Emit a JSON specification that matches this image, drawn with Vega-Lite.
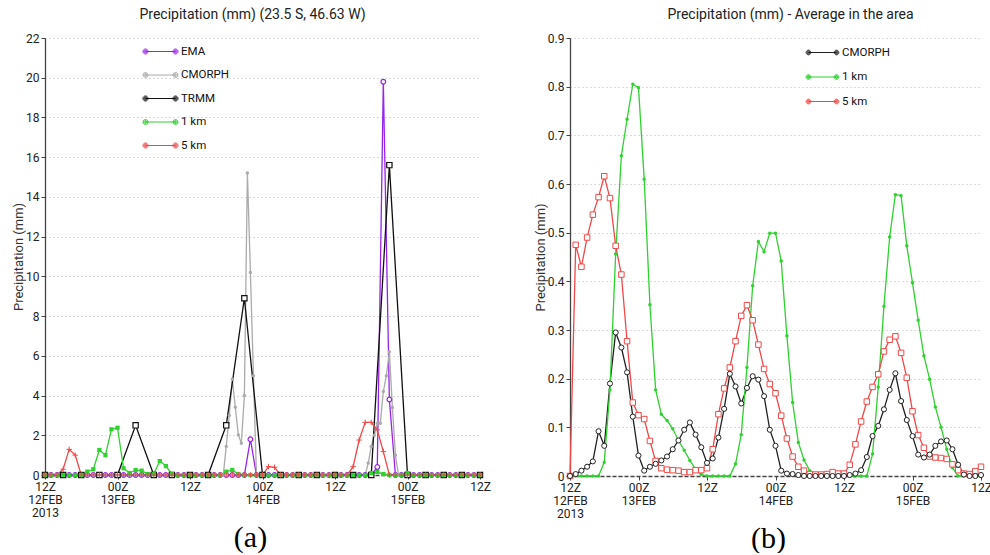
{
  "$schema": "https://vega.github.io/schema/vega-lite/v6.json",
  "background": "white",
  "padding": {"left": 12, "top": 8, "right": 0, "bottom": 0},
  "spacing": 43,
  "config": {
    "font": "Roboto, sans-serif",
    "view": {"stroke": null},
    "title": {"fontSize": 14, "fontWeight": "normal", "color": "#222", "offset": 10},
    "axis": {"labelFontSize": 12, "labelColor": "#222", "titleFontSize": 13, "titleFontWeight": "normal", "titleColor": "#333", "domainColor": "#444", "domainWidth": 1.3, "tickColor": "#444", "gridColor": "#b5b5b5", "gridDash": [1, 3], "tickSize": 4, "labelPadding": 2, "labelOverlap": false, "labelFlush": false},
    "legend": {"labelFontSize": 11.5, "labelColor": "#111", "padding": 0, "symbolStrokeWidth": 1, "labelOffset": 5}
  },
  "datasets": {
    "a": [
      {"s":"EMA","h":0,"v":0},{"s":"EMA","h":1,"v":0},{"s":"EMA","h":2,"v":0},{"s":"EMA","h":3,"v":0},{"s":"EMA","h":4,"v":0},{"s":"EMA","h":5,"v":0},{"s":"EMA","h":6,"v":0},{"s":"EMA","h":7,"v":0},{"s":"EMA","h":8,"v":0},{"s":"EMA","h":9,"v":0},{"s":"EMA","h":10,"v":0},{"s":"EMA","h":11,"v":0},{"s":"EMA","h":12,"v":0},{"s":"EMA","h":13,"v":0},{"s":"EMA","h":14,"v":0},{"s":"EMA","h":15,"v":0},{"s":"EMA","h":16,"v":0},{"s":"EMA","h":17,"v":0},{"s":"EMA","h":18,"v":0},{"s":"EMA","h":19,"v":0},{"s":"EMA","h":20,"v":0},{"s":"EMA","h":21,"v":0},{"s":"EMA","h":22,"v":0},{"s":"EMA","h":23,"v":0},{"s":"EMA","h":24,"v":0},{"s":"EMA","h":25,"v":0},{"s":"EMA","h":26,"v":0},{"s":"EMA","h":27,"v":0},{"s":"EMA","h":28,"v":0},{"s":"EMA","h":29,"v":0},{"s":"EMA","h":30,"v":0},{"s":"EMA","h":31,"v":0},{"s":"EMA","h":32,"v":0},{"s":"EMA","h":33,"v":0},{"s":"EMA","h":34,"v":1.8},{"s":"EMA","h":35,"v":0},{"s":"EMA","h":36,"v":0},{"s":"EMA","h":37,"v":0},{"s":"EMA","h":38,"v":0},{"s":"EMA","h":39,"v":0},{"s":"EMA","h":40,"v":0},{"s":"EMA","h":41,"v":0},{"s":"EMA","h":42,"v":0},{"s":"EMA","h":43,"v":0},{"s":"EMA","h":44,"v":0},{"s":"EMA","h":45,"v":0},{"s":"EMA","h":46,"v":0},{"s":"EMA","h":47,"v":0},{"s":"EMA","h":48,"v":0},{"s":"EMA","h":49,"v":0},{"s":"EMA","h":50,"v":0},{"s":"EMA","h":51,"v":0},{"s":"EMA","h":52,"v":0},{"s":"EMA","h":53,"v":0},{"s":"EMA","h":54,"v":0},{"s":"EMA","h":55,"v":0.4},{"s":"EMA","h":56,"v":19.8},{"s":"EMA","h":57,"v":3.8},{"s":"EMA","h":58,"v":0},{"s":"EMA","h":59,"v":0},{"s":"EMA","h":60,"v":0},{"s":"EMA","h":61,"v":0},{"s":"EMA","h":62,"v":0},{"s":"EMA","h":63,"v":0},{"s":"EMA","h":64,"v":0},{"s":"EMA","h":65,"v":0},{"s":"EMA","h":66,"v":0},{"s":"EMA","h":67,"v":0},{"s":"EMA","h":68,"v":0},{"s":"EMA","h":69,"v":0},{"s":"EMA","h":70,"v":0},{"s":"EMA","h":71,"v":0},{"s":"EMA","h":72,"v":0},

      {"s":"CMORPH","h":0,"v":0},{"s":"CMORPH","h":1,"v":0},{"s":"CMORPH","h":2,"v":0},{"s":"CMORPH","h":3,"v":0},{"s":"CMORPH","h":4,"v":0},{"s":"CMORPH","h":5,"v":0},{"s":"CMORPH","h":6,"v":0},{"s":"CMORPH","h":7,"v":0},{"s":"CMORPH","h":8,"v":0},{"s":"CMORPH","h":9,"v":0},{"s":"CMORPH","h":10,"v":0},{"s":"CMORPH","h":11,"v":0},{"s":"CMORPH","h":12,"v":0},{"s":"CMORPH","h":13,"v":0},{"s":"CMORPH","h":14,"v":0},{"s":"CMORPH","h":15,"v":0},{"s":"CMORPH","h":16,"v":0},{"s":"CMORPH","h":17,"v":0},{"s":"CMORPH","h":18,"v":0},{"s":"CMORPH","h":19,"v":0},{"s":"CMORPH","h":20,"v":0},{"s":"CMORPH","h":21,"v":0},{"s":"CMORPH","h":22,"v":0},{"s":"CMORPH","h":23,"v":0},{"s":"CMORPH","h":24,"v":0},{"s":"CMORPH","h":25,"v":0},{"s":"CMORPH","h":26,"v":0},{"s":"CMORPH","h":27,"v":0},{"s":"CMORPH","h":28,"v":0},{"s":"CMORPH","h":29,"v":0},{"s":"CMORPH","h":29.5,"v":0},{"s":"CMORPH","h":30,"v":1.43},{"s":"CMORPH","h":30.5,"v":3.0},{"s":"CMORPH","h":31,"v":4.82},{"s":"CMORPH","h":31.5,"v":3.41},{"s":"CMORPH","h":32,"v":2.02},{"s":"CMORPH","h":32.5,"v":1.6},{"s":"CMORPH","h":33,"v":4.0},{"s":"CMORPH","h":33.5,"v":15.2},{"s":"CMORPH","h":34,"v":10.2},{"s":"CMORPH","h":34.5,"v":5.0},{"s":"CMORPH","h":35,"v":0},{"s":"CMORPH","h":36,"v":0},{"s":"CMORPH","h":37,"v":0},{"s":"CMORPH","h":38,"v":0},{"s":"CMORPH","h":39,"v":0},{"s":"CMORPH","h":40,"v":0},{"s":"CMORPH","h":41,"v":0},{"s":"CMORPH","h":42,"v":0},{"s":"CMORPH","h":43,"v":0},{"s":"CMORPH","h":44,"v":0},{"s":"CMORPH","h":45,"v":0},{"s":"CMORPH","h":46,"v":0},{"s":"CMORPH","h":47,"v":0},{"s":"CMORPH","h":48,"v":0},{"s":"CMORPH","h":49,"v":0},{"s":"CMORPH","h":50,"v":0},{"s":"CMORPH","h":51,"v":0},{"s":"CMORPH","h":52,"v":0},{"s":"CMORPH","h":53,"v":0},{"s":"CMORPH","h":53.5,"v":0.6},{"s":"CMORPH","h":54,"v":1.43},{"s":"CMORPH","h":54.5,"v":2.0},{"s":"CMORPH","h":55,"v":2.6},{"s":"CMORPH","h":55.5,"v":2.6},{"s":"CMORPH","h":56,"v":4.2},{"s":"CMORPH","h":56.5,"v":5.0},{"s":"CMORPH","h":57,"v":6.2},{"s":"CMORPH","h":57.5,"v":3.4},{"s":"CMORPH","h":58,"v":1.0},{"s":"CMORPH","h":58.5,"v":0},{"s":"CMORPH","h":59,"v":0},{"s":"CMORPH","h":60,"v":0},{"s":"CMORPH","h":61,"v":0},{"s":"CMORPH","h":62,"v":0},{"s":"CMORPH","h":63,"v":0},{"s":"CMORPH","h":64,"v":0},{"s":"CMORPH","h":65,"v":0},{"s":"CMORPH","h":66,"v":0},{"s":"CMORPH","h":67,"v":0},{"s":"CMORPH","h":68,"v":0},{"s":"CMORPH","h":69,"v":0},{"s":"CMORPH","h":70,"v":0},{"s":"CMORPH","h":71,"v":0},{"s":"CMORPH","h":72,"v":0},

      {"s":"TRMM","h":0,"v":0},{"s":"TRMM","h":3,"v":0},{"s":"TRMM","h":6,"v":0},{"s":"TRMM","h":9,"v":0},{"s":"TRMM","h":12,"v":0},{"s":"TRMM","h":15,"v":2.5},{"s":"TRMM","h":18,"v":0},{"s":"TRMM","h":21,"v":0},{"s":"TRMM","h":24,"v":0},{"s":"TRMM","h":27,"v":0},{"s":"TRMM","h":30,"v":2.5},{"s":"TRMM","h":33,"v":8.9},{"s":"TRMM","h":36,"v":0},{"s":"TRMM","h":39,"v":0},{"s":"TRMM","h":42,"v":0},{"s":"TRMM","h":45,"v":0},{"s":"TRMM","h":48,"v":0},{"s":"TRMM","h":51,"v":0},{"s":"TRMM","h":54,"v":0},{"s":"TRMM","h":57,"v":15.6},{"s":"TRMM","h":60,"v":0},{"s":"TRMM","h":63,"v":0},{"s":"TRMM","h":66,"v":0},{"s":"TRMM","h":69,"v":0},{"s":"TRMM","h":72,"v":0},

      {"s":"1 km","h":0,"v":0},{"s":"1 km","h":1,"v":0},{"s":"1 km","h":2,"v":0},{"s":"1 km","h":3,"v":0},{"s":"1 km","h":4,"v":0},{"s":"1 km","h":5,"v":0},{"s":"1 km","h":6,"v":0},{"s":"1 km","h":7,"v":0.17},{"s":"1 km","h":8,"v":0.29},{"s":"1 km","h":9,"v":1.26},{"s":"1 km","h":10,"v":1.0},{"s":"1 km","h":11,"v":2.3},{"s":"1 km","h":12,"v":2.38},{"s":"1 km","h":13,"v":0.34},{"s":"1 km","h":14,"v":0.1},{"s":"1 km","h":15,"v":0.25},{"s":"1 km","h":16,"v":0.22},{"s":"1 km","h":17,"v":0.05},{"s":"1 km","h":18,"v":0.05},{"s":"1 km","h":19,"v":0.7},{"s":"1 km","h":20,"v":0.45},{"s":"1 km","h":21,"v":0.05},{"s":"1 km","h":22,"v":0},{"s":"1 km","h":23,"v":0},{"s":"1 km","h":24,"v":0},{"s":"1 km","h":25,"v":0},{"s":"1 km","h":26,"v":0},{"s":"1 km","h":27,"v":0},{"s":"1 km","h":28,"v":0},{"s":"1 km","h":29,"v":0},{"s":"1 km","h":30,"v":0.17},{"s":"1 km","h":31,"v":0.25},{"s":"1 km","h":32,"v":0.05},{"s":"1 km","h":33,"v":0},{"s":"1 km","h":34,"v":0},{"s":"1 km","h":35,"v":0},{"s":"1 km","h":36,"v":0},{"s":"1 km","h":37,"v":0},{"s":"1 km","h":38,"v":0},{"s":"1 km","h":39,"v":0},{"s":"1 km","h":40,"v":0},{"s":"1 km","h":41,"v":0},{"s":"1 km","h":42,"v":0},{"s":"1 km","h":43,"v":0},{"s":"1 km","h":44,"v":0},{"s":"1 km","h":45,"v":0},{"s":"1 km","h":46,"v":0},{"s":"1 km","h":47,"v":0},{"s":"1 km","h":48,"v":0},{"s":"1 km","h":49,"v":0},{"s":"1 km","h":50,"v":0},{"s":"1 km","h":51,"v":0},{"s":"1 km","h":52,"v":0},{"s":"1 km","h":53,"v":0},{"s":"1 km","h":54,"v":0.1},{"s":"1 km","h":55,"v":0.15},{"s":"1 km","h":56,"v":0.05},{"s":"1 km","h":57,"v":0},{"s":"1 km","h":58,"v":0},{"s":"1 km","h":59,"v":0},{"s":"1 km","h":60,"v":0.1},{"s":"1 km","h":61,"v":0},{"s":"1 km","h":62,"v":0},{"s":"1 km","h":63,"v":0},{"s":"1 km","h":64,"v":0},{"s":"1 km","h":65,"v":0},{"s":"1 km","h":66,"v":0},{"s":"1 km","h":67,"v":0},{"s":"1 km","h":68,"v":0},{"s":"1 km","h":69,"v":0},{"s":"1 km","h":70,"v":0},{"s":"1 km","h":71,"v":0},{"s":"1 km","h":72,"v":0},

      {"s":"5 km","h":0,"v":0},{"s":"5 km","h":1,"v":0},{"s":"5 km","h":2,"v":0},{"s":"5 km","h":3,"v":0.29},{"s":"5 km","h":4,"v":1.29},{"s":"5 km","h":5,"v":1.0},{"s":"5 km","h":6,"v":0},{"s":"5 km","h":7,"v":0},{"s":"5 km","h":8,"v":0},{"s":"5 km","h":9,"v":0},{"s":"5 km","h":10,"v":0},{"s":"5 km","h":11,"v":0},{"s":"5 km","h":12,"v":0},{"s":"5 km","h":13,"v":0},{"s":"5 km","h":14,"v":0},{"s":"5 km","h":15,"v":0},{"s":"5 km","h":16,"v":0},{"s":"5 km","h":17,"v":0},{"s":"5 km","h":18,"v":0},{"s":"5 km","h":19,"v":0},{"s":"5 km","h":20,"v":0},{"s":"5 km","h":21,"v":0},{"s":"5 km","h":22,"v":0},{"s":"5 km","h":23,"v":0},{"s":"5 km","h":24,"v":0},{"s":"5 km","h":25,"v":0},{"s":"5 km","h":26,"v":0},{"s":"5 km","h":27,"v":0},{"s":"5 km","h":28,"v":0},{"s":"5 km","h":29,"v":0},{"s":"5 km","h":30,"v":0},{"s":"5 km","h":31,"v":0},{"s":"5 km","h":32,"v":0},{"s":"5 km","h":33,"v":0},{"s":"5 km","h":34,"v":0},{"s":"5 km","h":35,"v":0},{"s":"5 km","h":36,"v":0},{"s":"5 km","h":37,"v":0.42},{"s":"5 km","h":38,"v":0.39},{"s":"5 km","h":39,"v":0},{"s":"5 km","h":40,"v":0},{"s":"5 km","h":41,"v":0},{"s":"5 km","h":42,"v":0},{"s":"5 km","h":43,"v":0},{"s":"5 km","h":44,"v":0},{"s":"5 km","h":45,"v":0},{"s":"5 km","h":46,"v":0},{"s":"5 km","h":47,"v":0},{"s":"5 km","h":48,"v":0},{"s":"5 km","h":49,"v":0},{"s":"5 km","h":50,"v":0},{"s":"5 km","h":51,"v":0.42},{"s":"5 km","h":52,"v":1.76},{"s":"5 km","h":53,"v":2.65},{"s":"5 km","h":54,"v":2.65},{"s":"5 km","h":55,"v":2.27},{"s":"5 km","h":56,"v":1.18},{"s":"5 km","h":57,"v":0},{"s":"5 km","h":58,"v":0},{"s":"5 km","h":59,"v":0},{"s":"5 km","h":60,"v":0},{"s":"5 km","h":61,"v":0},{"s":"5 km","h":62,"v":0},{"s":"5 km","h":63,"v":0},{"s":"5 km","h":64,"v":0},{"s":"5 km","h":65,"v":0},{"s":"5 km","h":66,"v":0},{"s":"5 km","h":67,"v":0},{"s":"5 km","h":68,"v":0},{"s":"5 km","h":69,"v":0},{"s":"5 km","h":70,"v":0},{"s":"5 km","h":71,"v":0},{"s":"5 km","h":72,"v":0}
    ],
    "b": [
      {"s":"CMORPH","h":0,"v":0},{"s":"CMORPH","h":1,"v":0.004},{"s":"CMORPH","h":2,"v":0.011},{"s":"CMORPH","h":3,"v":0.019},{"s":"CMORPH","h":4,"v":0.03},{"s":"CMORPH","h":5,"v":0.092},{"s":"CMORPH","h":6,"v":0.062},{"s":"CMORPH","h":7,"v":0.19},{"s":"CMORPH","h":8,"v":0.295},{"s":"CMORPH","h":9,"v":0.264},{"s":"CMORPH","h":10,"v":0.213},{"s":"CMORPH","h":11,"v":0.122},{"s":"CMORPH","h":12,"v":0.042},{"s":"CMORPH","h":13,"v":0.011},{"s":"CMORPH","h":14,"v":0.019},{"s":"CMORPH","h":15,"v":0.025},{"s":"CMORPH","h":16,"v":0.032},{"s":"CMORPH","h":17,"v":0.04},{"s":"CMORPH","h":18,"v":0.055},{"s":"CMORPH","h":19,"v":0.073},{"s":"CMORPH","h":20,"v":0.095},{"s":"CMORPH","h":21,"v":0.11},{"s":"CMORPH","h":22,"v":0.085},{"s":"CMORPH","h":23,"v":0.059},{"s":"CMORPH","h":24,"v":0.027},{"s":"CMORPH","h":25,"v":0.036},{"s":"CMORPH","h":26,"v":0.079},{"s":"CMORPH","h":27,"v":0.138},{"s":"CMORPH","h":28,"v":0.21},{"s":"CMORPH","h":29,"v":0.184},{"s":"CMORPH","h":30,"v":0.149},{"s":"CMORPH","h":31,"v":0.181},{"s":"CMORPH","h":32,"v":0.205},{"s":"CMORPH","h":33,"v":0.198},{"s":"CMORPH","h":34,"v":0.164},{"s":"CMORPH","h":35,"v":0.095},{"s":"CMORPH","h":36,"v":0.062},{"s":"CMORPH","h":37,"v":0.011},{"s":"CMORPH","h":38,"v":0.005},{"s":"CMORPH","h":39,"v":0.004},{"s":"CMORPH","h":40,"v":0.002},{"s":"CMORPH","h":41,"v":0},{"s":"CMORPH","h":42,"v":0},{"s":"CMORPH","h":43,"v":0},{"s":"CMORPH","h":44,"v":0},{"s":"CMORPH","h":45,"v":0},{"s":"CMORPH","h":46,"v":0},{"s":"CMORPH","h":47,"v":0},{"s":"CMORPH","h":48,"v":0},{"s":"CMORPH","h":49,"v":0.002},{"s":"CMORPH","h":50,"v":0.005},{"s":"CMORPH","h":51,"v":0.012},{"s":"CMORPH","h":52,"v":0.039},{"s":"CMORPH","h":53,"v":0.082},{"s":"CMORPH","h":54,"v":0.103},{"s":"CMORPH","h":55,"v":0.137},{"s":"CMORPH","h":56,"v":0.177},{"s":"CMORPH","h":57,"v":0.211},{"s":"CMORPH","h":58,"v":0.154},{"s":"CMORPH","h":59,"v":0.115},{"s":"CMORPH","h":60,"v":0.082},{"s":"CMORPH","h":61,"v":0.044},{"s":"CMORPH","h":62,"v":0.038},{"s":"CMORPH","h":63,"v":0.044},{"s":"CMORPH","h":64,"v":0.062},{"s":"CMORPH","h":65,"v":0.071},{"s":"CMORPH","h":66,"v":0.073},{"s":"CMORPH","h":67,"v":0.055},{"s":"CMORPH","h":68,"v":0.023},{"s":"CMORPH","h":69,"v":0.003},{"s":"CMORPH","h":70,"v":0},{"s":"CMORPH","h":71,"v":0},{"s":"CMORPH","h":72,"v":0.002},

      {"s":"1 km","h":0,"v":0},{"s":"1 km","h":1,"v":0},{"s":"1 km","h":2,"v":0},{"s":"1 km","h":3,"v":0},{"s":"1 km","h":4,"v":0},{"s":"1 km","h":5,"v":0},{"s":"1 km","h":6,"v":0.028},{"s":"1 km","h":7,"v":0.177},{"s":"1 km","h":8,"v":0.456},{"s":"1 km","h":9,"v":0.658},{"s":"1 km","h":10,"v":0.733},{"s":"1 km","h":11,"v":0.805},{"s":"1 km","h":12,"v":0.798},{"s":"1 km","h":13,"v":0.61},{"s":"1 km","h":14,"v":0.352},{"s":"1 km","h":15,"v":0.177},{"s":"1 km","h":16,"v":0.127},{"s":"1 km","h":17,"v":0.114},{"s":"1 km","h":18,"v":0.097},{"s":"1 km","h":19,"v":0.073},{"s":"1 km","h":20,"v":0.053},{"s":"1 km","h":21,"v":0.032},{"s":"1 km","h":22,"v":0.014},{"s":"1 km","h":23,"v":0.003},{"s":"1 km","h":24,"v":0},{"s":"1 km","h":25,"v":0},{"s":"1 km","h":26,"v":0},{"s":"1 km","h":27,"v":0},{"s":"1 km","h":28,"v":0},{"s":"1 km","h":29,"v":0.025},{"s":"1 km","h":30,"v":0.085},{"s":"1 km","h":31,"v":0.223},{"s":"1 km","h":32,"v":0.391},{"s":"1 km","h":33,"v":0.482},{"s":"1 km","h":34,"v":0.461},{"s":"1 km","h":35,"v":0.499},{"s":"1 km","h":36,"v":0.499},{"s":"1 km","h":37,"v":0.442},{"s":"1 km","h":38,"v":0.288},{"s":"1 km","h":39,"v":0.151},{"s":"1 km","h":40,"v":0.069},{"s":"1 km","h":41,"v":0.033},{"s":"1 km","h":42,"v":0.011},{"s":"1 km","h":43,"v":0},{"s":"1 km","h":44,"v":0},{"s":"1 km","h":45,"v":0},{"s":"1 km","h":46,"v":0},{"s":"1 km","h":47,"v":0},{"s":"1 km","h":48,"v":0},{"s":"1 km","h":49,"v":0},{"s":"1 km","h":50,"v":0},{"s":"1 km","h":51,"v":0},{"s":"1 km","h":52,"v":0},{"s":"1 km","h":53,"v":0.045},{"s":"1 km","h":54,"v":0.183},{"s":"1 km","h":55,"v":0.349},{"s":"1 km","h":56,"v":0.491},{"s":"1 km","h":57,"v":0.578},{"s":"1 km","h":58,"v":0.576},{"s":"1 km","h":59,"v":0.473},{"s":"1 km","h":60,"v":0.397},{"s":"1 km","h":61,"v":0.32},{"s":"1 km","h":62,"v":0.247},{"s":"1 km","h":63,"v":0.199},{"s":"1 km","h":64,"v":0.142},{"s":"1 km","h":65,"v":0.1},{"s":"1 km","h":66,"v":0.055},{"s":"1 km","h":67,"v":0.017},{"s":"1 km","h":68,"v":0},{"s":"1 km","h":69,"v":0},{"s":"1 km","h":70,"v":0},{"s":"1 km","h":71,"v":0},{"s":"1 km","h":72,"v":0},

      {"s":"5 km","h":0,"v":0},{"s":"5 km","h":1,"v":0.475},{"s":"5 km","h":2,"v":0.43},{"s":"5 km","h":3,"v":0.49},{"s":"5 km","h":4,"v":0.537},{"s":"5 km","h":5,"v":0.573},{"s":"5 km","h":6,"v":0.616},{"s":"5 km","h":7,"v":0.571},{"s":"5 km","h":8,"v":0.473},{"s":"5 km","h":9,"v":0.414},{"s":"5 km","h":10,"v":0.277},{"s":"5 km","h":11,"v":0.151},{"s":"5 km","h":12,"v":0.125},{"s":"5 km","h":13,"v":0.117},{"s":"5 km","h":14,"v":0.072},{"s":"5 km","h":15,"v":0.031},{"s":"5 km","h":16,"v":0.016},{"s":"5 km","h":17,"v":0.013},{"s":"5 km","h":18,"v":0.012},{"s":"5 km","h":19,"v":0.011},{"s":"5 km","h":20,"v":0.008},{"s":"5 km","h":21,"v":0.008},{"s":"5 km","h":22,"v":0.012},{"s":"5 km","h":23,"v":0.012},{"s":"5 km","h":24,"v":0.016},{"s":"5 km","h":25,"v":0.055},{"s":"5 km","h":26,"v":0.127},{"s":"5 km","h":27,"v":0.18},{"s":"5 km","h":28,"v":0.223},{"s":"5 km","h":29,"v":0.277},{"s":"5 km","h":30,"v":0.329},{"s":"5 km","h":31,"v":0.351},{"s":"5 km","h":32,"v":0.32},{"s":"5 km","h":33,"v":0.27},{"s":"5 km","h":34,"v":0.22},{"s":"5 km","h":35,"v":0.189},{"s":"5 km","h":36,"v":0.17},{"s":"5 km","h":37,"v":0.124},{"s":"5 km","h":38,"v":0.077},{"s":"5 km","h":39,"v":0.04},{"s":"5 km","h":40,"v":0.019},{"s":"5 km","h":41,"v":0.011},{"s":"5 km","h":42,"v":0.004},{"s":"5 km","h":43,"v":0.003},{"s":"5 km","h":44,"v":0.003},{"s":"5 km","h":45,"v":0.004},{"s":"5 km","h":46,"v":0.008},{"s":"5 km","h":47,"v":0.005},{"s":"5 km","h":48,"v":0.005},{"s":"5 km","h":49,"v":0.023},{"s":"5 km","h":50,"v":0.065},{"s":"5 km","h":51,"v":0.112},{"s":"5 km","h":52,"v":0.153},{"s":"5 km","h":53,"v":0.183},{"s":"5 km","h":54,"v":0.209},{"s":"5 km","h":55,"v":0.256},{"s":"5 km","h":56,"v":0.28},{"s":"5 km","h":57,"v":0.287},{"s":"5 km","h":58,"v":0.253},{"s":"5 km","h":59,"v":0.202},{"s":"5 km","h":60,"v":0.133},{"s":"5 km","h":61,"v":0.084},{"s":"5 km","h":62,"v":0.058},{"s":"5 km","h":63,"v":0.04},{"s":"5 km","h":64,"v":0.038},{"s":"5 km","h":65,"v":0.037},{"s":"5 km","h":66,"v":0.035},{"s":"5 km","h":67,"v":0.024},{"s":"5 km","h":68,"v":0.012},{"s":"5 km","h":69,"v":0.005},{"s":"5 km","h":70,"v":0.004},{"s":"5 km","h":71,"v":0.01},{"s":"5 km","h":72,"v":0.019}
    ]
  },
  "hconcat": [
    {
      "width": 435,
      "height": 437,
      "title": {"text": "Precipitation (mm) (23.5 S, 46.63 W)", "dx": -10},
      "data": {"name": "a"},
      "encoding": {
        "x": {"field": "h", "type": "quantitative", "scale": {"domain": [0, 72], "nice": false, "zero": false},
          "axis": {"values": [0, 12, 24, 36, 48, 60, 72], "grid": false, "domainDash": [4, 2],
            "labelExpr": "datum.value == 0 ? ['12Z','12FEB','2013'] : datum.value == 12 ? ['00Z','13FEB'] : datum.value == 36 ? ['00Z','14FEB'] : datum.value == 60 ? ['00Z','15FEB'] : '12Z'",
            "labelLineHeight": 13, "title": "(a)", "titleFont": "Liberation Serif", "titleFontSize": 30, "titleColor": "#000", "titleX": 205, "titleY": 71, "titleBaseline": "alphabetic"}},
        "y": {"field": "v", "type": "quantitative", "scale": {"domain": [0, 22], "nice": false},
          "axis": {"values": [0, 2, 4, 6, 8, 10, 12, 14, 16, 18, 20, 22], "format": "d", "labelOverlap": false, "title": "Precipitation (mm)", "titlePadding": 0}}
      },
      "layer": [
        {
          "mark": {"type": "line", "strokeWidth": 1.3},
          "encoding": {
            "color": {"field": "s", "type": "nominal",
              "scale": {"domain": ["EMA", "CMORPH", "TRMM", "1 km", "5 km"], "range": ["#9a22e8", "#ababab", "#111111", "#2fd12f", "#f04848"]},
              "legend": {"orient": "none", "legendX": 100, "legendY": -2, "title": null, "rowPadding": 2.5,
                "symbolType": "M-1,0L1,0M-0.833,0A0.167,0.167,0,1,1,-1.167,0A0.167,0.167,0,1,1,-0.833,0M-0.9,0A0.1,0.1,0,1,1,-1.1,0A0.1,0.1,0,1,1,-0.9,0M-0.96,0A0.04,0.04,0,1,1,-1.04,0A0.04,0.04,0,1,1,-0.96,0M1.167,0A0.167,0.167,0,1,1,0.833,0A0.167,0.167,0,1,1,1.167,0M1.1,0A0.1,0.1,0,1,1,0.9,0A0.1,0.1,0,1,1,1.1,0M1.04,0A0.04,0.04,0,1,1,0.96,0A0.04,0.04,0,1,1,1.04,0",
                "symbolSize": 900}}
          }
        },
        {"transform": [{"filter": "datum.s == 'EMA'"}], "mark": {"type": "point", "shape": "circle", "filled": false, "fill": "#ffffff", "stroke": "#9a22e8", "size": 22, "strokeWidth": 1.2, "opacity": 1}},
        {"transform": [{"filter": "datum.s == 'TRMM'"}], "mark": {"type": "point", "shape": "square", "filled": false, "fill": "#ffffff", "stroke": "#111111", "size": 28, "strokeWidth": 1.2, "opacity": 1}},
        {"transform": [{"filter": "datum.s == 'CMORPH'"}], "mark": {"type": "point", "shape": "circle", "filled": true, "color": "#ababab", "size": 12, "opacity": 1}},
        {"transform": [{"filter": "datum.s == '1 km'"}], "mark": {"type": "point", "shape": "square", "filled": true, "color": "#2fd12f", "size": 18, "opacity": 1}},
        {"transform": [{"filter": "datum.s == '5 km'"}], "mark": {"type": "point", "shape": "M-1,0L1,0M0,-1L0,1", "filled": false, "color": "#f04848", "size": 30, "strokeWidth": 1, "opacity": 1}},
        {
          "data": {"values": [{}]},
          "mark": {"type": "rule", "color": "#555555", "strokeDash": [4, 2], "strokeWidth": 1},
          "encoding": {"x": {"datum": 0, "type": "quantitative"}, "x2": {"datum": 72}, "y": {"datum": 22, "type": "quantitative"}}
        },
        {
          "data": {"values": [{}]},
          "mark": {"type": "rule", "color": "#555555", "strokeWidth": 1.3},
          "encoding": {"x": {"datum": 72, "type": "quantitative"}, "y": {"datum": 0, "type": "quantitative"}, "y2": {"datum": 22}}
        }
      ]
    },
    {
      "width": 411,
      "height": 438,
      "title": {"text": "Precipitation (mm) - Average in the area", "dx": 15},
      "data": {"name": "b"},
      "encoding": {
        "x": {"field": "h", "type": "quantitative", "scale": {"domain": [0, 72], "nice": false, "zero": false},
          "axis": {"values": [0, 12, 24, 36, 48, 60, 72], "grid": false, "domainDash": [4, 2],
            "labelExpr": "datum.value == 0 ? ['12Z','12FEB','2013'] : datum.value == 12 ? ['00Z','13FEB'] : datum.value == 36 ? ['00Z','14FEB'] : datum.value == 60 ? ['00Z','15FEB'] : '12Z'",
            "labelLineHeight": 13, "title": "(b)", "titleFont": "Liberation Serif", "titleFontSize": 30, "titleColor": "#000", "titleX": 198, "titleY": 71, "titleBaseline": "alphabetic"}},
        "y": {"field": "v", "type": "quantitative", "scale": {"domain": [0, 0.9], "nice": false},
          "axis": {"values": [0, 0.1, 0.2, 0.3, 0.4, 0.5, 0.6, 0.7, 0.8, 0.9], "format": ".1~f", "labelOverlap": false, "title": "Precipitation (mm)", "titlePadding": 0}}
      },
      "layer": [
        {
          "mark": {"type": "line", "strokeWidth": 1.3},
          "encoding": {
            "color": {"field": "s", "type": "nominal",
              "scale": {"domain": ["CMORPH", "1 km", "5 km"], "range": ["#222222", "#2fd12f", "#f04848"]},
              "legend": {"orient": "none", "legendX": 238, "legendY": 0, "title": null, "rowPadding": 4.5,
                "symbolType": "M-1,0L1,0M-0.833,0A0.167,0.167,0,1,1,-1.167,0A0.167,0.167,0,1,1,-0.833,0M-0.9,0A0.1,0.1,0,1,1,-1.1,0A0.1,0.1,0,1,1,-0.9,0M-0.96,0A0.04,0.04,0,1,1,-1.04,0A0.04,0.04,0,1,1,-0.96,0M1.167,0A0.167,0.167,0,1,1,0.833,0A0.167,0.167,0,1,1,1.167,0M1.1,0A0.1,0.1,0,1,1,0.9,0A0.1,0.1,0,1,1,1.1,0M1.04,0A0.04,0.04,0,1,1,0.96,0A0.04,0.04,0,1,1,1.04,0",
                "symbolSize": 784}}
          }
        },
        {"transform": [{"filter": "datum.s == '1 km'"}], "mark": {"type": "point", "shape": "circle", "filled": true, "color": "#2fd12f", "size": 12, "opacity": 1}},
        {"transform": [{"filter": "datum.s == '5 km'"}], "mark": {"type": "point", "shape": "square", "filled": false, "fill": "#ffffff", "stroke": "#f04848", "size": 30, "strokeWidth": 1, "opacity": 1}},
        {"transform": [{"filter": "datum.s == 'CMORPH'"}], "mark": {"type": "point", "shape": "circle", "filled": false, "fill": "#ffffff", "stroke": "#222222", "size": 26, "strokeWidth": 1, "opacity": 1}},
        {
          "data": {"values": [{}]},
          "mark": {"type": "rule", "color": "#555555", "strokeDash": [4, 2], "strokeWidth": 1},
          "encoding": {"x": {"datum": 0, "type": "quantitative"}, "x2": {"datum": 72}, "y": {"datum": 0.9, "type": "quantitative"}}
        },
        {
          "data": {"values": [{}]},
          "mark": {"type": "rule", "color": "#555555", "strokeWidth": 1.3},
          "encoding": {"x": {"datum": 72, "type": "quantitative"}, "y": {"datum": 0, "type": "quantitative"}, "y2": {"datum": 0.9}}
        }
      ]
    }
  ],
  "resolve": {"scale": {"color": "independent"}}
}
